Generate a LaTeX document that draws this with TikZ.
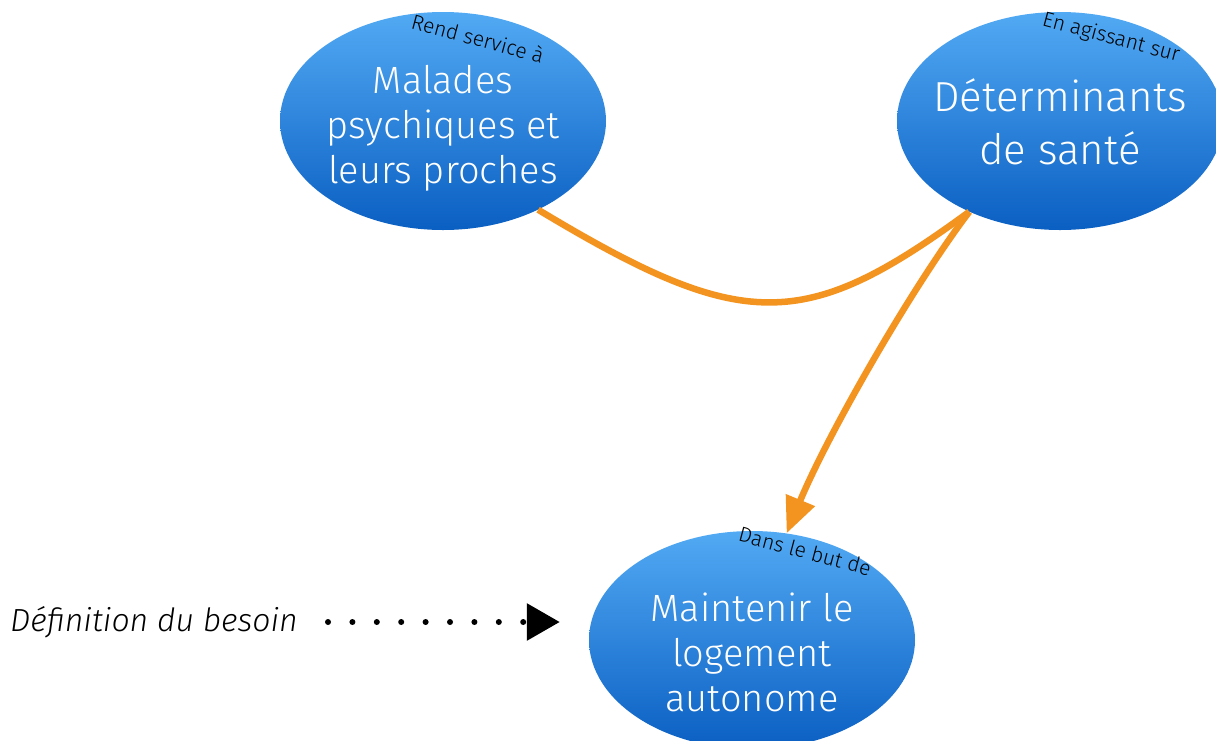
\documentclass[tikz,border=0pt]{standalone}
\usepackage{fontspec}
\setmainfont{Fira Sans Light}
\usetikzlibrary{arrows.meta,shapes.geometric}

\definecolor{bleuhaut}{HTML}{52AAF4}
\definecolor{bleubas}{HTML}{0A5FC2}
\definecolor{orangelien}{HTML}{F39420}

\begin{document}
\begin{tikzpicture}[
                x=1pt, y=-1pt,
                bulle/.style={
                    ellipse,
                    minimum width=326pt,
                    minimum height=218pt,
                    inner sep=0pt,
                    top color=bleuhaut,
                    bottom color=bleubas
                },
                texte/.style={text=white, align=center, inner sep=0pt, font=\fontsize{38}{45}\selectfont},
                etiq/.style={rotate=-15, inner sep=0pt, font=\fontsize{21}{24}\selectfont},
                lien/.style={draw=orangelien, line width=6.5pt},
                pointille/.style={line width=6pt, line cap=round, dash pattern=on 0pt off 24.4pt}
            ]
                \useasboundingbox (0,0) rectangle (1216,740);

                % noeuds
                \node[bulle] (malades) at (443,121) {};
                \node[bulle] (determinants) at (1060,121) {};
                \node[bulle] (maintenir) at (752,640) {};
                \node[texte] (maladestxt) at (443,128) {Malades\\psychiques et\\leurs proches};
                \node[texte, font=\fontsize{42}{53}\selectfont] (determinantstxt) at (1060,122) {Déterminants\\de santé};
                \node[texte] (maintenirtxt) at (752,652) {Maintenir le\\logement\\autonome};
                \node[etiq] (rend) at (478,38) {Rend service à};
                \node[etiq] (agissant) at (1111,38) {En agissant sur};
                \node[etiq] (but) at (805,551) {Dans le but de};
                \node[font=\fontsize{32}{34}\selectfont\itshape, anchor=west, inner sep=0pt] (besoin) at (10,622) {Définition du besoin};

                % liens
                \draw[lien] (malades.-43) .. controls (743,333) and (804,333) .. (determinants.-135);
                \draw[lien, -{Triangle[length=36pt, width=30pt]}] (determinants.-135) .. controls (910,290) and (827,436) .. (maintenir.72);
                \draw[pointille, -{Triangle[length=33pt, width=36pt]}, shorten <=30pt, shorten >=29pt] (besoin.east) -- (besoin.east -| maintenir.west);
            \end{tikzpicture}
\end{document}
